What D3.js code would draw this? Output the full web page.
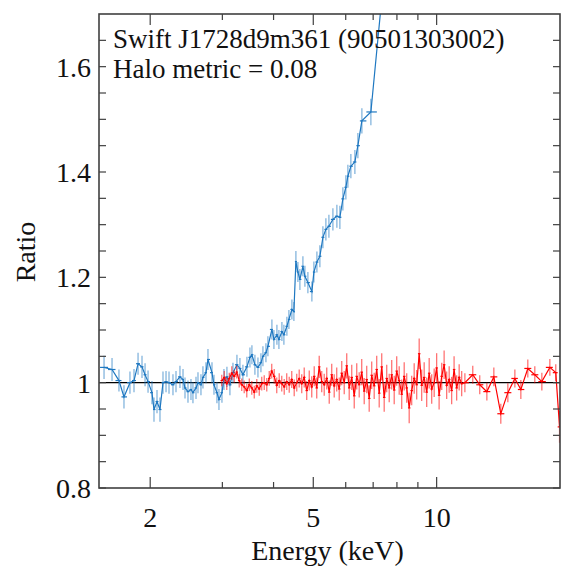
<!DOCTYPE html>
<html><head><meta charset="utf-8">
<script src="https://cdn.jsdelivr.net/npm/d3@7"></script>
<style>body{margin:0;background:#fff}svg{display:block}</style>
</head><body>
<svg id="chart" width="577" height="570"></svg>
<script>
// ---- text ----
const titleLine1 = "Swift J1728d9m361 (90501303002)";
const titleLine2 = "Halo metric = 0.08";
const xLabel = "Energy (keV)";
const yLabel = "Ratio";

// ---- axes ----
const xDomain = [1.5, 20];
const yDomain = [0.8, 1.7];
const xMajorTicks = [2, 5, 10];
const xMinorTicks = [3, 4, 6, 7, 8, 9];
const yLabelTicks = [0.8, 1.0, 1.2, 1.4, 1.6];
const yAllTicks = [0.8,0.85,0.9,0.95,1.0,1.05,1.1,1.15,1.2,1.25,1.3,1.35,1.4,1.45,1.5,1.55,1.6,1.65];
const refLine = 1.0;

// ---- blue series ----
const blueEnergy = [1.543,1.614,1.678,1.726,1.785,1.826,1.868,1.910,1.943,1.976,2.020,2.043,2.078,2.113,2.149,2.186,2.223,2.273,2.312,2.364,2.405,2.432,2.473,2.515,2.543,2.587,2.616,2.660,2.690,2.736,2.767,2.830,2.862,2.910,2.943,2.993,3.027,3.078,3.130,3.184,3.256,3.311,3.367,3.444,3.503,3.542,3.602,3.664,3.726,3.768,3.832,3.875,3.963,4.008,4.076,4.122,4.192,4.239,4.311,4.360,4.434,4.484,4.535,4.586,4.638,4.717,4.770,4.851,4.961,5.017,5.103,5.189,5.278,5.367,5.459,5.583,5.709,5.806,5.905,6.005,6.073,6.176,6.317,6.424,6.570,6.911,7.391];
const blueRatio = [1.029,1.025,1.004,0.973,1.000,1.004,1.036,1.030,1.015,1.002,0.981,0.949,0.964,0.949,1.000,1.002,1.000,0.996,1.002,1.011,1.006,0.990,0.983,0.987,0.981,0.990,1.000,0.996,1.010,1.019,1.044,1.019,0.996,0.981,0.968,0.981,1.006,1.011,0.996,1.019,1.034,1.027,1.015,1.030,1.048,1.053,1.034,1.029,1.038,1.050,1.057,1.069,1.101,1.082,1.091,1.082,1.097,1.091,1.107,1.120,1.139,1.135,1.230,1.210,1.196,1.221,1.202,1.190,1.173,1.210,1.229,1.240,1.276,1.291,1.297,1.310,1.316,1.314,1.349,1.371,1.392,1.411,1.419,1.450,1.497,1.514,1.750];
const blueErr = [0.022,0.022,0.021,0.022,0.021,0.022,0.021,0.021,0.022,0.021,0.022,0.023,0.022,0.023,
0.021,0.020,0.021,0.020,0.020,0.021,0.020,0.020,0.021,0.020,0.020,0.021,0.020,0.020,0.021,0.020,0.020,0.020,0.019,0.020,0.020,0.019,0.020,0.019,0.020,0.019,0.019,0.020,0.019,0.019,0.019,0.018,0.019,0.019,0.018,0.019,0.018,0.019,
0.019,0.018,0.019,0.018,0.018,0.019,0.018,0.018,0.019,0.018,0.020,0.019,0.020,0.019,0.020,0.020,0.019,0.020,0.020,0.021,
0.021,0.021,0.022,0.021,0.022,0.022,0.022,0.023,0.022,0.023,0.023,0.024,0.024,0.025,0.030];

// ---- red series ----
const redEnergy = [2.990,3.032,3.075,3.119,3.163,3.207,3.252,3.298,3.345,3.392,3.441,3.490,3.539,3.589,3.640,3.691,3.743,3.796,3.850,3.904,3.959,4.015,4.072,4.129,4.188,4.247,4.307,4.368,4.430,4.492,4.556,4.620,4.686,4.752,4.819,4.888,4.957,5.027,5.098,5.170,5.243,5.317,5.393,5.469,5.546,5.624,5.704,5.785,5.867,5.950,6.034,6.119,6.206,6.294,6.383,6.472,6.564,6.657,6.751,6.846,6.943,7.041,7.141,7.242,7.345,7.448,7.554,7.661,7.769,7.879,7.990,8.103,8.218,8.334,8.452,8.571,8.692,8.815,8.940,9.066,9.194,9.324,9.456,9.590,9.726,9.863,10.00,10.14,10.29,10.43,10.58,10.73,10.88,11.03,11.19,11.35,11.51,
11.72,12.25,12.74,13.26,13.79,14.34,14.92,15.52,16.05,16.69,17.36,18.06,18.89,19.53,19.95];
const redRatio = [1.004,1.010,0.998,1.008,1.018,1.012,1.020,1.004,0.996,
0.992,0.985,0.996,0.990,0.982,0.994,0.988,0.998,
1.000,0.996,1.008,1.022,1.012,0.995,1.004,0.998,
0.992,1.002,0.996,1.006,0.990,1.000,1.008,
0.998,1.010,0.985,1.004,0.992,1.012,0.990,1.030,1.002,
0.996,1.008,0.982,1.015,0.994,1.006,0.988,1.018,1.000,1.032,
0.990,1.010,0.975,1.012,0.996,1.020,0.984,1.006,0.970,1.014,
0.994,1.025,0.980,1.030,0.972,1.008,0.990,1.015,0.986,1.022,
1.004,0.978,1.012,0.990,0.952,0.985,1.008,0.996,1.055,0.995,
1.010,0.982,1.018,0.988,1.000,1.028,0.976,1.012,1.034,0.995,
1.006,0.985,1.025,0.990,1.010,0.998,
1.000,1.015,0.996,0.983,1.011,0.941,0.981,1.008,0.987,1.027,1.015,1.002,1.029,1.019,0.916];
const redErr = [0.011,0.012,0.012,0.011,0.013,0.012,0.012,0.013,0.012,0.012,0.013,0.012,0.013,0.012,0.013,0.013,0.013,0.014,0.013,0.014,0.014,0.014,0.015,0.014,0.015,0.015,0.016,0.015,0.016,0.016,0.017,0.017,
0.018,0.019,0.018,0.019,0.020,0.019,0.020,0.021,0.020,0.021,0.021,0.022,0.021,0.022,0.023,0.022,0.023,0.022,0.024,0.023,0.024,0.024,0.025,0.024,0.025,0.025,0.026,0.025,0.026,0.025,0.026,0.027,0.026,0.027,0.026,0.027,0.028,0.027,0.028,0.027,0.028,0.027,0.028,0.029,0.028,0.029,0.028,0.029,0.030,0.029,0.028,0.029,0.028,0.027,0.028,0.027,0.026,0.027,0.026,0.025,0.026,0.025,0.024,0.025,0.024,
0.018,0.017,0.018,0.017,0.018,0.019,0.018,0.017,0.018,0.017,0.016,0.017,0.016,0.016,0.030];

// ---- layout ----
const W = 577, H = 570;
const m = {left: 99, right: 17, top: 14, bottom: 82};
const pw = W - m.left - m.right, ph = H - m.top - m.bottom;
const FONT = "'Liberation Serif','Times New Roman',serif";
const BLUE = "#1f78c1", RED = "#ff0000", FRAME = "#404040";

const svg = d3.select("#chart");
const x = d3.scaleLog().domain(xDomain).range([0, pw]);
const y = d3.scaleLinear().domain(yDomain).range([ph, 0]);
const g = svg.append("g").attr("transform", `translate(${m.left},${m.top})`);

svg.append("defs").append("clipPath").attr("id", "clip")
  .append("rect").attr("width", pw).attr("height", ph);

// reference line
g.append("line").attr("x1", 0).attr("x2", pw).attr("y1", y(refLine)).attr("y2", y(refLine))
  .attr("stroke", "#000").attr("stroke-width", 1.3);

function drawSeries(E, R, Err, color) {
  const pts = E.map((e, i) => {
    const lo = i > 0 ? Math.sqrt(E[i-1] * e) : e * e / Math.sqrt(e * E[i+1]);
    const hi = i < E.length - 1 ? Math.sqrt(e * E[i+1]) : e * e / Math.sqrt(E[i-1] * e);
    return {e, r: R[i], err: Err[i], lo, hi};
  });
  const layer = g.append("g").attr("clip-path", "url(#clip)");
  layer.selectAll("line.v").data(pts).join("line")
    .attr("x1", d => x(d.e)).attr("x2", d => x(d.e))
    .attr("y1", d => y(d.r - d.err)).attr("y2", d => y(d.r + d.err))
    .attr("stroke", color).attr("stroke-opacity", 0.55).attr("stroke-width", 1.3);
  layer.selectAll("line.h").data(pts).join("line")
    .attr("x1", d => x(d.lo)).attr("x2", d => x(d.hi))
    .attr("y1", d => y(d.r)).attr("y2", d => y(d.r))
    .attr("stroke", color).attr("stroke-width", 1.2);
  layer.append("path").datum(pts)
    .attr("d", d3.line().x(d => x(d.e)).y(d => y(d.r)))
    .attr("fill", "none").attr("stroke", color).attr("stroke-width", 1.2);
}
drawSeries(blueEnergy, blueRatio, blueErr, BLUE);
drawSeries(redEnergy, redRatio, redErr, RED);

// ---- axes (inward ticks on all four sides) ----
const majLen = 11, minLen = 6, yLen = 7;
function xTicks(vals, len) {
  vals.forEach(v => {
    g.append("line").attr("x1", x(v)).attr("x2", x(v)).attr("y1", ph).attr("y2", ph - len)
      .attr("stroke", FRAME).attr("stroke-width", 1.2);
    g.append("line").attr("x1", x(v)).attr("x2", x(v)).attr("y1", 0).attr("y2", len)
      .attr("stroke", FRAME).attr("stroke-width", 1.2);
  });
}
xTicks(xMajorTicks, majLen);
xTicks(xMinorTicks, minLen);
yAllTicks.forEach(v => {
  g.append("line").attr("x1", 0).attr("x2", yLen).attr("y1", y(v)).attr("y2", y(v))
    .attr("stroke", FRAME).attr("stroke-width", 1.2);
  g.append("line").attr("x1", pw).attr("x2", pw - yLen).attr("y1", y(v)).attr("y2", y(v))
    .attr("stroke", FRAME).attr("stroke-width", 1.2);
});
g.append("rect").attr("width", pw).attr("height", ph).attr("fill", "none")
  .attr("stroke", FRAME).attr("stroke-width", 1.6);

// tick labels
const fmtY = d3.format("~g");
g.selectAll("text.yt").data(yLabelTicks).join("text")
  .attr("x", -8).attr("y", d => y(d)).attr("dy", "0.36em")
  .attr("text-anchor", "end").attr("font-family", FONT).attr("font-size", 28)
  .attr("fill", "#111").text(d => fmtY(d));
g.selectAll("text.xt").data(xMajorTicks).join("text")
  .attr("x", d => x(d)).attr("y", ph + 39)
  .attr("text-anchor", "middle").attr("font-family", FONT).attr("font-size", 28)
  .attr("fill", "#111").text(d => d);

// axis titles
svg.append("text").attr("x", m.left + pw / 2 - 2).attr("y", 560)
  .attr("text-anchor", "middle").attr("font-family", FONT).attr("font-size", 28)
  .attr("fill", "#111").text(xLabel);
svg.append("text").attr("transform", `translate(35,252) rotate(-90)`)
  .attr("text-anchor", "middle").attr("font-family", FONT).attr("font-size", 28)
  .attr("fill", "#111").text(yLabel);

// annotation
svg.append("text").attr("x", 113).attr("y", 48).attr("font-family", FONT).attr("font-size", 27)
  .attr("fill", "#111").text(titleLine1);
svg.append("text").attr("x", 113).attr("y", 78).attr("font-family", FONT).attr("font-size", 27)
  .attr("fill", "#111").text(titleLine2);
</script>
</body></html>
